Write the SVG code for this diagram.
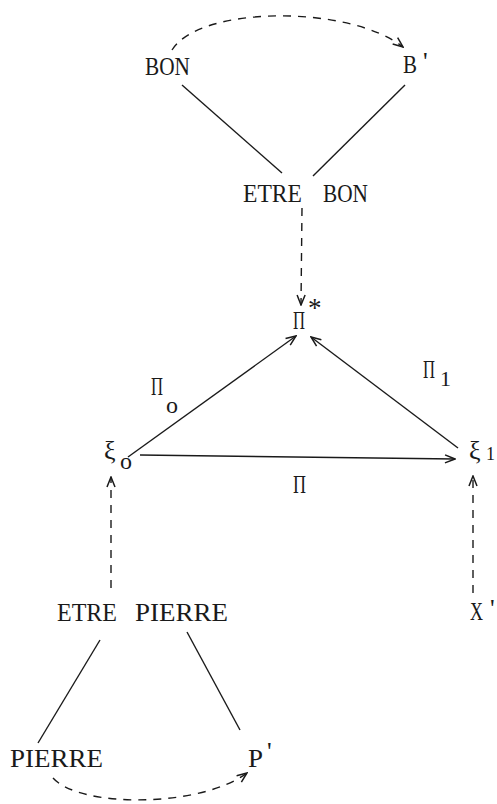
<svg xmlns="http://www.w3.org/2000/svg" width="497" height="804" viewBox="0 0 497 804">
<defs>
<style>
text{font-family:"Liberation Serif","DejaVu Serif",serif;font-size:26px;fill:#1a1a1a}
.o{font-size:24px}
.ln{stroke:#1a1a1a;stroke-width:1.4;fill:none}
.dash{stroke:#1a1a1a;stroke-width:1.4;fill:none;stroke-dasharray:8 7}
</style>
<marker id="ah" viewBox="0 0 12 10" refX="11" refY="5" markerWidth="12" markerHeight="10" markerUnits="userSpaceOnUse" orient="auto">
<path d="M1,1 L11,5 L1,9" fill="none" stroke="#1a1a1a" stroke-width="1.5"/>
</marker>
</defs>
<rect width="497" height="804" fill="#ffffff"/>
<g id="connectors">
<path class="dash" d="M172,50 C200,5 350,5 403,47" marker-end="url(#ah)"/>
<line class="ln" x1="182" y1="85" x2="282" y2="173"/>
<line class="ln" x1="405" y1="85" x2="313" y2="176"/>
<line class="dash" x1="302" y1="208" x2="301" y2="305" marker-end="url(#ah)"/>
<line class="ln" x1="128" y1="457" x2="296" y2="336" marker-end="url(#ah)"/>
<line class="ln" x1="458" y1="448" x2="311" y2="337" marker-end="url(#ah)"/>
<line class="ln" x1="140" y1="455" x2="455" y2="459" marker-end="url(#ah)"/>
<line class="dash" x1="111" y1="588" x2="111" y2="477" marker-end="url(#ah)"/>
<line class="dash" x1="473" y1="593" x2="473" y2="476" marker-end="url(#ah)"/>
<line class="ln" x1="100" y1="640" x2="38" y2="743"/>
<line class="ln" x1="187" y1="632" x2="240" y2="730"/>
<path class="dash" d="M53,778 C80,808 200,808 247,773" marker-end="url(#ah)"/>
</g>
<g id="label-pi0"><text x="151" y="395" textLength="12" lengthAdjust="spacingAndGlyphs">Π</text><text class="o" x="166" y="413">o</text></g>
<g id="label-pi1"><text x="423" y="378" textLength="12" lengthAdjust="spacingAndGlyphs">Π</text><text x="440" y="386" style="font-size:22px">1</text></g>
<g id="label-pi"><text x="293" y="493" textLength="13" lengthAdjust="spacingAndGlyphs">Π</text></g>
<g id="node-bon"><text x="145" y="75" textLength="45" lengthAdjust="spacingAndGlyphs">BON</text></g>
<g id="node-b1"><text x="403" y="73" textLength="14" lengthAdjust="spacingAndGlyphs">B</text><text x="423" y="70">'</text></g>
<g id="node-etre-bon"><text x="243" y="202" textLength="59" lengthAdjust="spacingAndGlyphs">ETRE</text><text x="323" y="202" textLength="45" lengthAdjust="spacingAndGlyphs">BON</text></g>
<g id="node-pistar"><text x="293" y="329" textLength="12" lengthAdjust="spacingAndGlyphs">Π</text><text x="308" y="317" style="font-size:27px">*</text></g>
<g id="node-xi0"><text x="104" y="459">ξ</text><text class="o" x="120" y="469">o</text></g>
<g id="node-xi1"><text x="469" y="459">ξ</text><text x="486" y="460" style="font-size:18px">1</text></g>
<g id="node-x1"><text x="470" y="620" textLength="13" lengthAdjust="spacingAndGlyphs">X</text><text x="490" y="617">'</text></g>
<g id="node-etre-pierre"><text x="57" y="621" textLength="60" lengthAdjust="spacingAndGlyphs">ETRE</text><text x="135" y="621" textLength="93" lengthAdjust="spacingAndGlyphs">PIERRE</text></g>
<g id="node-pierre"><text x="10" y="767" textLength="93" lengthAdjust="spacingAndGlyphs">PIERRE</text></g>
<g id="node-p1"><text x="248" y="767" textLength="15" lengthAdjust="spacingAndGlyphs">P</text><text x="267" y="760">'</text></g>
</svg>
